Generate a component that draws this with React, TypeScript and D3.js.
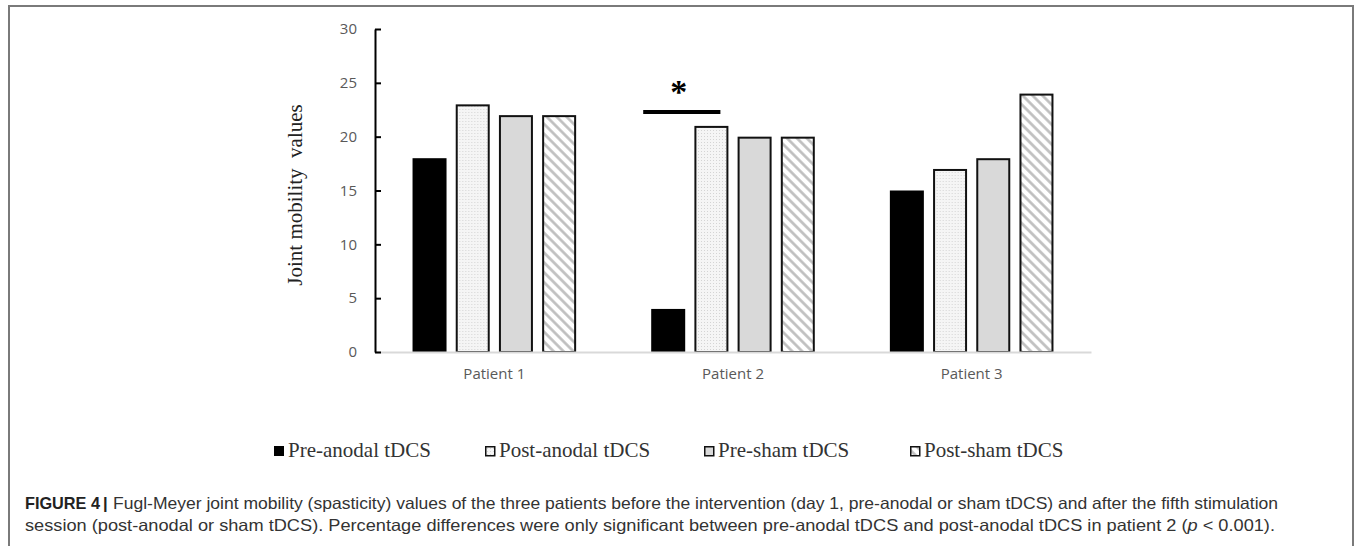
import React, { useEffect, useRef } from 'react';
import * as d3 from 'd3';

// ---- data ----
const patients = ['Patient 1', 'Patient 2', 'Patient 3'];
const seriesNames = ['Pre-anodal tDCS', 'Post-anodal tDCS', 'Pre-sham tDCS', 'Post-sham tDCS'];
const preAnodal = [18, 4, 15];
const postAnodal = [23, 21, 17];
const preSham = [22, 20, 18];
const postSham = [22, 20, 24];
const yTicks = [0, 5, 10, 15, 20, 25, 30];
const sigPatient = 'Patient 2';
const sigLevel = 22.3;
const sigStarLevel = 24.6;
const yTitle = 'Joint mobility  values';
const captionLine1Bold = 'FIGURE 4';
const captionLine1 = 'Fugl-Meyer joint mobility (spasticity) values of the three patients before the intervention (day 1, pre-anodal or sham tDCS) and after the fifth stimulation';
const captionLine2a = 'session (post-anodal or sham tDCS). Percentage differences were only significant between pre-anodal tDCS and post-anodal tDCS in patient 2 (';
const captionLine2p = 'p';
const captionLine2b = ' < 0.001).';

// ---- layout ----
const W = 1355;
const H = 546;
const plot = { left: 375, right: 1091, top: 29, bottom: 352 };
const legendX = [274, 485, 704, 910];
const legendY = 457;
const fills = ['#000000', 'url(#dots)', '#d9d9d9', 'url(#hatch)'];

const seriesValues = [preAnodal, postAnodal, preSham, postSham];

export default function App() {
  const yAxisRef = useRef<SVGGElement>(null);
  const xAxisRef = useRef<SVGGElement>(null);

  const x0 = d3.scaleBand<string>().domain(patients).range([plot.left, plot.right]).paddingInner(0).paddingOuter(0);
  const x1 = d3.scaleBand<string>().domain(seriesNames).range([-81.8, 81.8]).paddingInner(0.213).paddingOuter(0);
  const y = d3.scaleLinear().domain([0, 30]).range([plot.bottom, plot.top]);

  useEffect(() => {
    if (yAxisRef.current) {
      const g = d3.select(yAxisRef.current);
      g.selectAll('*').remove();
      g.call(
        d3.axisLeft(y).tickValues(yTicks).tickSizeInner(-6).tickSizeOuter(0).tickPadding(18)
      );
      g.select('.domain').attr('stroke', '#000').attr('stroke-width', 2);
      g.selectAll('.tick line').attr('stroke', '#000').attr('stroke-width', 2);
      g.selectAll('.tick text')
        .attr('fill', '#595959')
        .attr('font-size', 15)
        .attr('font-family', '"Open Sans", sans-serif');
    }
    if (xAxisRef.current) {
      const g = d3.select(xAxisRef.current);
      g.selectAll('*').remove();
      g.call(d3.axisBottom(x0).tickSize(0).tickPadding(16));
      g.select('.domain').attr('stroke', '#d9d9d9').attr('stroke-width', 2);
      g.selectAll('.tick text')
        .attr('fill', '#595959')
        .attr('font-size', 15)
        .attr('font-family', '"Open Sans", sans-serif');
    }
  }, []);

  const sigLeft = (x0(sigPatient) as number) + x0.bandwidth() / 2 + (x1(seriesNames[0]) as number) - 8;
  const sigRight = (x0(sigPatient) as number) + x0.bandwidth() / 2 + (x1(seriesNames[1]) as number) + x1.bandwidth() - 8;

  return (
    <svg width={W} height={H} style={{ position: 'absolute', left: 0, top: 0, background: '#fff' }}>
      <defs>
        <pattern id="dots" patternUnits="userSpaceOnUse" width={3} height={3}>
          <rect width={3} height={3} fill="#f5f5f5" />
          <rect x={1} y={1} width={1} height={1} fill="#d4d4d4" />
        </pattern>
        <pattern id="hatch" patternUnits="userSpaceOnUse" width={7} height={7} patternTransform="rotate(-45)">
          <rect width={7} height={7} fill="#ffffff" />
          <line x1={3.5} y1={-1} x2={3.5} y2={8} stroke="#bdbdbd" strokeWidth={2.6} />
        </pattern>
      </defs>

      {/* frame */}
      <rect x={9} y={6} width={1344} height={560} fill="none" stroke="#7a7a7a" strokeWidth={2} />

      {/* bars */}
      {patients.map((p, pi) => (
        <g key={p} transform={`translate(${(x0(p) as number) + x0.bandwidth() / 2},0)`}>
          {seriesNames.map((s, si) => {
            const v = seriesValues[si][pi];
            const bx = x1(s) as number;
            const bw = x1.bandwidth();
            return si === 0 ? (
              <rect key={s} x={bx} y={y(v)} width={bw} height={y(0) - y(v)} fill={fills[si]} />
            ) : (
              <rect
                key={s}
                x={bx + 1}
                y={y(v) + 1}
                width={bw - 2}
                height={y(0) - y(v) - 1}
                fill={fills[si]}
                stroke="#111"
                strokeWidth={2}
              />
            );
          })}
        </g>
      ))}

      {/* axes */}
      <g ref={xAxisRef} transform={`translate(0,${plot.bottom})`} />
      <g ref={yAxisRef} transform={`translate(${plot.left},0)`} />

      {/* y title */}
      <text
        transform={`translate(302,195) rotate(-90)`}
        textAnchor="middle"
        fontFamily='"Liberation Serif", "Times New Roman", serif'
        fontSize={21}
        fill="#222"
        style={{ whiteSpace: 'pre' }}
      >
        {yTitle}
      </text>

      {/* significance */}
      <line x1={sigLeft} x2={sigRight} y1={y(sigLevel)} y2={y(sigLevel)} stroke="#000" strokeWidth={4} />
      <text
        x={(sigLeft + sigRight) / 2 - 3}
        y={y(sigStarLevel) + 16}
        textAnchor="middle"
        fontFamily='"Liberation Serif", "Times New Roman", serif'
        fontWeight="bold"
        fontSize={34}
        fill="#000"
      >
        *
      </text>

      {/* legend */}
      {seriesNames.map((s, i) => (
        <g key={s}>
          {i === 0 ? (
            <rect x={legendX[i]} y={legendY - 11} width={10} height={10} fill="#000" />
          ) : (
            <rect x={legendX[i] + 0.75} y={legendY - 10.25} width={9} height={9} fill={fills[i]} stroke="#111" strokeWidth={1.5} />
          )}
          <text
            x={legendX[i] + 14}
            y={legendY}
            fontFamily='"Liberation Serif", "Times New Roman", serif'
            fontSize={21}
            fill="#333"
          >
            {s}
          </text>
        </g>
      ))}

      {/* caption */}
      <text x={25} y={509} fontFamily='"Liberation Sans", Arial, sans-serif' fontWeight="bold" fontSize={16.5} fill="#222" textLength={75} lengthAdjust="spacingAndGlyphs">
        {captionLine1Bold}
      </text>
      <text x={103} y={509} fontFamily='"Liberation Sans", Arial, sans-serif' fontWeight="bold" fontSize={16.5} fill="#222">
        |
      </text>
      <text x={113} y={509} fontFamily='"Liberation Sans", Arial, sans-serif' fontSize={16.5} fill="#333" textLength={1165} lengthAdjust="spacingAndGlyphs">
        {captionLine1}
      </text>
      <text x={25} y={531} fontFamily='"Liberation Sans", Arial, sans-serif' fontSize={16.5} fill="#333" textLength={1250} lengthAdjust="spacingAndGlyphs" style={{ whiteSpace: 'pre' }}>
        {captionLine2a}
        <tspan fontStyle="italic">{captionLine2p}</tspan>
        {captionLine2b}
      </text>
    </svg>
  );
}
